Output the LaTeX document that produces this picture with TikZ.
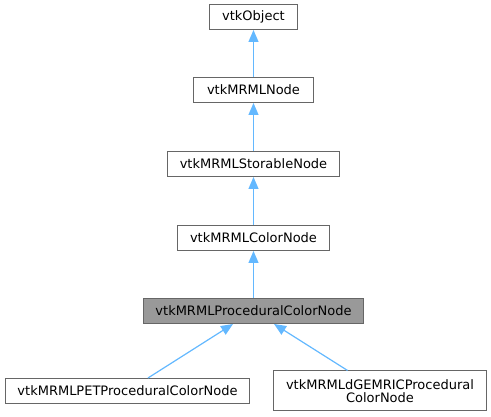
\documentclass[tikz,border=0pt]{standalone}
\usepackage{fontspec}
\setmainfont{DejaVu Sans}
\usetikzlibrary{arrows.meta}
\definecolor{edgeblue}{HTML}{63B8FF}
\definecolor{boxgray}{HTML}{666666}
\definecolor{hlgray}{HTML}{999999}

\begin{document}
\begin{tikzpicture}[x=1pt,y=-1pt]
  \tikzstyle{class}=[rectangle, draw=boxgray, fill=white, line width=1pt, inner sep=0pt,
minimum height=25pt, font=\fontsize{13}{13}\selectfont, align=center]
  \tikzstyle{edge}=[draw=edgeblue, line width=1.2pt, -{Triangle[length=12pt,width=10pt]}]
  \useasboundingbox (0,0) rectangle (491,417);
  \node[class, minimum width=88pt] (C_obj) at (253.5,17) {vtkObject};
  \node[class, minimum width=120pt] (C_node) at (253.5,90) {vtkMRMLNode};
  \node[class, minimum width=172pt] (C_stor) at (253.5,164) {vtkMRMLStorableNode};
  \node[class, minimum width=152pt] (C_color) at (253.5,238) {vtkMRMLColorNode};
  \node[class, fill=hlgray, minimum width=220pt] (C_proc) at (253.5,311) {vtkMRMLProceduralColorNode};
  \node[class, minimum width=244pt] (C_pet) at (127.5,391) {vtkMRMLPETProceduralColorNode};
  \node[class, minimum width=213pt, minimum height=40pt] (C_dgem) at (380,391) {vtkMRMLdGEMRICProcedural\\ColorNode};
  \draw[edge] (C_node) -- (C_obj);
  \draw[edge] (C_stor) -- (C_node);
  \draw[edge] (C_color) -- (C_stor);
  \draw[edge] (C_proc) -- (C_color);
  \draw[edge] (C_pet) -- (C_proc);
  \draw[edge] (C_dgem) -- (C_proc);
\end{tikzpicture}
\end{document}
